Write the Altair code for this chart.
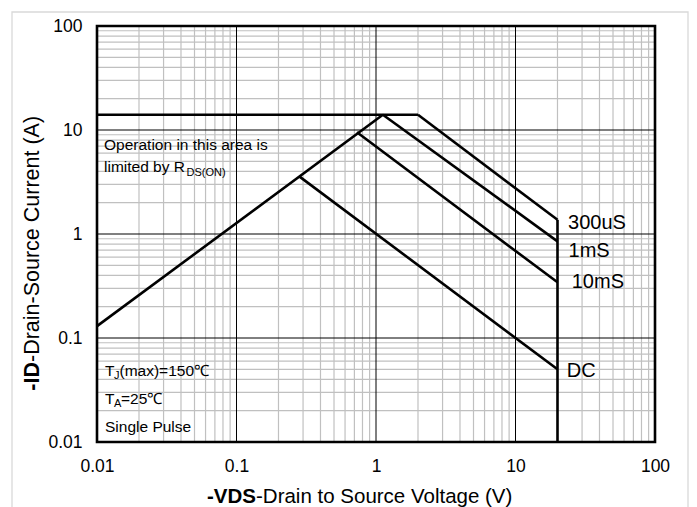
import altair as alt
import pandas as pd

W, H = 558, 416
FONT = "Liberation Sans"

# axis ticks
x_ticks = [0.01, 0.1, 1, 10, 100]
y_ticks = [0.01, 0.1, 1, 10, 100]
major_x = [0.1, 1, 10]
major_y = [0.1, 1, 10]
minor_x = [m * 10.0 ** k for k in range(-2, 2) for m in range(2, 10)]
minor_y = [m * 10.0 ** k for k in range(-2, 2) for m in range(2, 10)]

# SOA boundary segments (VDS in V, ID in A)
seg_names = ["RDS(ON) limit", "ID limit", "300uS", "1mS", "10mS", "DC", "VDS limit"]
seg_x = [[0.01, 1.12], [0.01, 2.0], [2.0, 20], [1.12, 20], [0.73, 20], [0.28, 20], [20, 20]]
seg_y = [[0.13, 14], [14, 14], [14, 1.37], [14, 0.85], [9.5, 0.343], [3.6, 0.05], [0.01, 1.37]]

# text fragments: text, x, y, font size
txt_text = ["Operation in this area is", "limited by R", "DS(ON)",
            "T", "J", "(max)=150℃",
            "T", "A", "=25℃",
            "Single Pulse",
            "300uS", "1mS", "10mS", "DC"]
txt_x = [0.01123, 0.01123, 0.04383,
         0.01141, 0.01324, 0.0145,
         0.01141, 0.01324, 0.01486,
         0.01141,
         23.8, 24.0, 25.3, 23.3]
txt_y = [6.42, 3.95, 3.65,
         0.0431, 0.0403, 0.0431,
         0.02318, 0.0217, 0.02318,
         0.01248,
         1.105, 0.605, 0.300, 0.0425]
txt_size = [15.5, 15.5, 11, 15.5, 11, 15.5, 15.5, 11, 15.5, 15.5, 20, 20, 20, 20]

rows = []
for name, xs_, ys_ in zip(seg_names, seg_x, seg_y):
    for i, (a, b) in enumerate(zip(xs_, ys_)):
        rows.append({"series": name, "x": a, "y": b, "o": i})
curves = pd.DataFrame(rows)
texts = pd.DataFrame({"t": txt_text, "x": txt_x, "y": txt_y, "fs": txt_size})

xs = alt.Scale(type="log", domain=[0.01, 100], nice=False)
ys = alt.Scale(type="log", domain=[0.01, 100], nice=False)
common_axis = dict(format="~g", title=None, grid=False, ticks=False, domain=False,
                   labelFontSize=17.5, labelFont=FONT, labelColor="black",
                   labelOverlap=False)
x_axis = alt.Axis(values=x_ticks, labelPadding=15, labelFlush=False, **common_axis)
y_axis = alt.Axis(values=y_ticks, labelPadding=15, **common_axis)

X = lambda: alt.X("x:Q", scale=xs, axis=x_axis)
Y = lambda: alt.Y("y:Q", scale=ys, axis=y_axis)

one = pd.DataFrame({"k": [0]})

frame = alt.Chart(one).mark_rect(fillOpacity=0, stroke="#d9d9d9", strokeWidth=1.3).encode(
    x=alt.value(-85), x2=alt.value(591), y=alt.value(-14), y2=alt.value(530))

minor_v = alt.Chart(pd.DataFrame({"x": minor_x})).mark_rule(color="#c0c0c0", strokeWidth=1.2).encode(x=X())
minor_h = alt.Chart(pd.DataFrame({"y": minor_y})).mark_rule(color="#c0c0c0", strokeWidth=1.2).encode(y=Y())
major_v = alt.Chart(pd.DataFrame({"x": major_x})).mark_rule(color="black", strokeWidth=1).encode(x=X())
major_h = alt.Chart(pd.DataFrame({"y": major_y})).mark_rule(color="black", strokeWidth=1).encode(y=Y())

lines = alt.Chart(curves).mark_line(color="black", strokeWidth=2.6, strokeCap="butt").encode(
    x=X(), y=Y(), detail="series:N", order="o:Q")

border = alt.Chart(one).mark_rect(fillOpacity=0, stroke="black", strokeWidth=2.6).encode(
    x=alt.value(0), x2=alt.value(W), y=alt.value(0), y2=alt.value(H))

labels = alt.Chart(texts).mark_text(align="left", baseline="alphabetic", font=FONT, color="black").encode(
    x=X(), y=Y(), text="t:N", size=alt.Size("fs:Q", scale=None, legend=None))

def title_part(s, x, y, align, bold, size, angle=0):
    kw = dict(align=align, baseline="alphabetic", font=FONT, fontSize=size, color="black",
              fontWeight="bold" if bold else "normal")
    if angle:
        kw["angle"] = angle
    return alt.Chart(pd.DataFrame({"t": [s]})).mark_text(**kw).encode(
        x=alt.value(x), y=alt.value(y), text="t:N")

xt1 = title_part("-VDS", 159, 477, "right", True, 20.5)
xt2 = title_part("-Drain to Source Voltage (V)", 159, 477, "left", False, 20.5)
yt1 = title_part("-ID", -58, 336, "right", True, 21.5, 270)
yt2 = title_part("-Drain-Source Current  (A)", -58, 336, "left", False, 21.5, 270)

chart = alt.layer(frame, minor_v, minor_h, major_v, major_h, lines, border, labels,
                  xt1, xt2, yt1, yt2).properties(
    width=W, height=H,
    autosize=alt.AutoSizeParams(type="none"),
    padding={"left": 89, "top": 18, "right": 34, "bottom": 65},
).configure_view(stroke=None).configure(background="white")

chart.save("out.html", embed_options={"renderer": "svg", "actions": False})
